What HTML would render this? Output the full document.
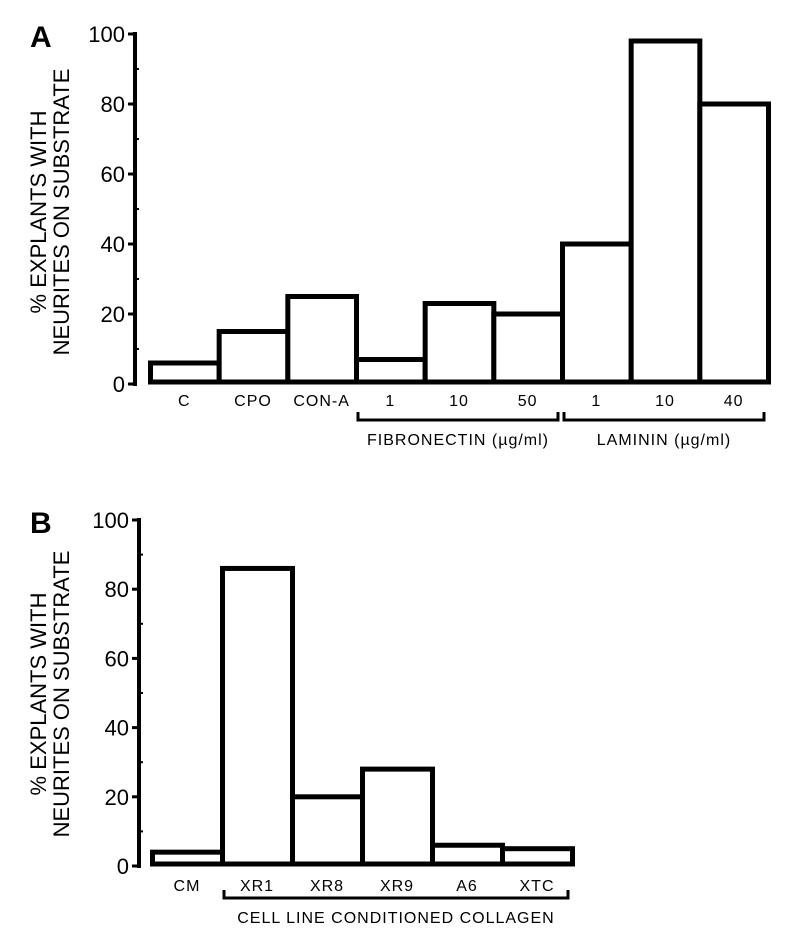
<!DOCTYPE html>
<html><head><meta charset="utf-8"><style>
html,body{margin:0;padding:0;background:#fff;}
svg{display:block;font-family:"Liberation Sans",sans-serif;}
</style></head><body>
<svg id="chart" width="797" height="933" viewBox="0 0 797 933" xmlns="http://www.w3.org/2000/svg"></svg>
<script>
const catsA = ["C","CPO","CON-A","1","10","50","1","10","40"];
const valsA = [6,15,25,7,23,20,40,98,80];
const catsB = ["CM","XR1","XR8","XR9","A6","XTC"];
const valsB = [4,86,20,28,6,5];
const ticks = [0,20,40,60,80,100];
const minorTicks = [10,30,50,70,90];

const NS="http://www.w3.org/2000/svg";
const svg=document.getElementById('chart');
function mk(tag,attrs,parent){const e=document.createElementNS(NS,tag);for(const k in attrs)e.setAttribute(k,attrs[k]);(parent||svg).appendChild(e);return e;}

function panel(cfg){
  const g=mk('g',{});
  
  
  const y=v=>cfg.y0-(v/100)*(cfg.y0-cfg.y100);
  const bw=(cfg.xEnd-cfg.xStart)/cfg.cats.length;
  const x=i=>cfg.xStart+i*bw;
  const L=mk('text',{x:cfg.letterX,y:cfg.y100+13,'font-size':30,'font-weight':'bold'},g);
  L.textContent=cfg.letter;
  
  
  const ax=mk('line',{x1:cfg.axX,y1:cfg.y100-2,x2:cfg.axX,y2:cfg.y0+2,stroke:'#000','stroke-width':4},g);
  
  
  ticks.forEach(t=>{
    mk('line',{x1:cfg.axX-7,y1:y(t),x2:cfg.axX,y2:y(t),stroke:'#000','stroke-width':3},g);
    const tl=mk('text',{x:cfg.axX-10,y:y(t)+8,'font-size':22,'text-anchor':'end'},g);
    tl.textContent=t;
    
    
  });
  minorTicks.forEach(t=>mk('line',{x1:cfg.axX,y1:y(t),x2:cfg.axX+4,y2:y(t),stroke:'#000','stroke-width':2},g));
  const t1=mk('text',{x:0,y:0,'font-size':22,'text-anchor':'middle',transform:`translate(${cfg.titleX},${cfg.titleY}) rotate(-90)`},g);
  t1.textContent='% EXPLANTS WITH';
  
  
  const t2=mk('text',{x:0,y:0,'font-size':22,'text-anchor':'middle',transform:`translate(${cfg.titleX+23},${cfg.titleY}) rotate(-90)`},g);
  t2.textContent='NEURITES ON SUBSTRATE';
  
  
  cfg.vals.forEach((v,i)=>{
    const r=mk('rect',{x:x(i)+2.5,y:y(v),width:bw,height:cfg.y0-y(v)-2,fill:'#fff',stroke:'#000','stroke-width':5},g);
    
    
    const c=mk('text',{x:x(i)+bw/2+2,y:cfg.labY,'font-size':16,'text-anchor':'middle','letter-spacing':1},g);
    c.textContent=cfg.cats[i];
    
    
  });
  cfg.groups.forEach(gr=>{
    const x1=x(gr.from)+4, x2=x(gr.to+1)-2;
    const p=mk('path',{d:`M${x1},${cfg.brY-8} V${cfg.brY} H${x2} V${cfg.brY-8}`,fill:'none',stroke:'#000','stroke-width':3},g);
    
    
    const gl=mk('text',{x:(x1+x2)/2,y:cfg.brY+25,'font-size':16,'text-anchor':'middle','letter-spacing':1},g);
    gl.textContent=gr.label;
    
    
  });
}
panel({name:'panel-a',letter:'A',letterX:30,cats:catsA,vals:valsA,axX:135,y0:384,y100:34,xStart:148,xEnd:766,labY:406,brY:420,titleX:46,titleY:212,
  groups:[{from:3,to:5,label:'FIBRONECTIN (µg/ml)'},{from:6,to:8,label:'LAMININ (µg/ml)'}]});
panel({name:'panel-b',letter:'B',letterX:30,cats:catsB,vals:valsB,axX:139,y0:866,y100:520,xStart:150,xEnd:570,labY:891,brY:898,titleX:46,titleY:694,
  groups:[{from:1,to:5,label:'CELL LINE CONDITIONED COLLAGEN'}]});
</script>
</body></html>
